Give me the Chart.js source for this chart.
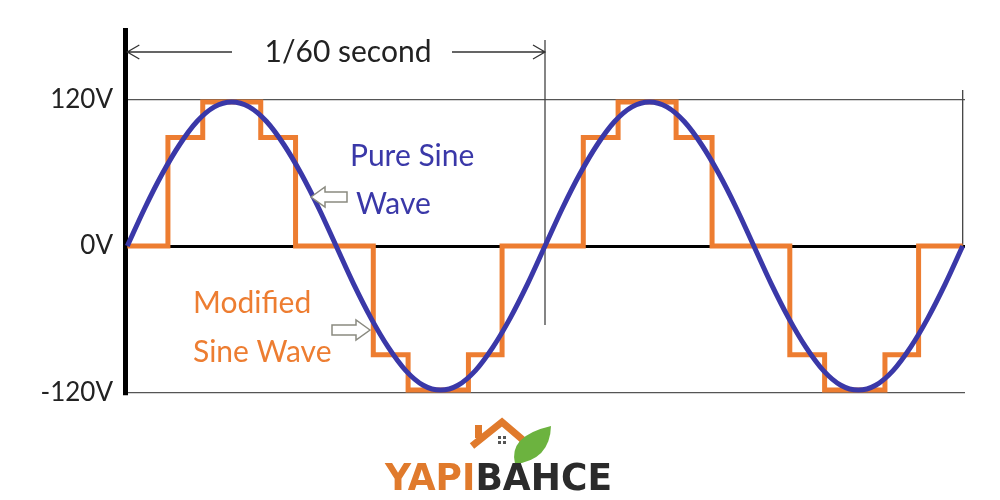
<!DOCTYPE html>
<html>
<head>
<meta charset="utf-8">
<script src="https://cdn.jsdelivr.net/npm/chart.js@4"></script>
<style>
    html, body { margin: 0; padding: 0; background: #fff; }
</style>
</head>
<body>
<canvas id="graficoOnda" width="1000" height="500"></canvas>
<script>
// phase in degrees, two full cycles (1/60 s each)
const phaseDeg = [0,15,30,45,60,75,90,105,120,135,150,165,180,195,210,225,240,255,270,285,300,315,330,345,
                  360,375,390,405,420,435,450,465,480,495,510,525,540,555,570,585,600,615,630,645,660,675,690,705,720];
const pureSine = [0,31,59,83,102,114,118,114,102,83,59,31,0,-31,-59,-83,-102,-114,-118,-114,-102,-83,-59,-31,
                  0,31,59,83,102,114,118,114,102,83,59,31,0,-31,-59,-83,-102,-114,-118,-114,-102,-83,-59,-31,0];

// modified sine: each level holds from its phase to the next one
const stepPhase = [0,35,65,115,145,212,242,294,323,393,423,473,504,571,601,653,682,720];
const modifiedSine = [0,89,118,89,0,-89,-118,-89,0,89,118,89,0,-89,-118,-89,0,0];

const voltTicks = [-120, 0, 120];
const voltLabels = ['-120V', '0V', '120V'];

const azul = 'rgb(58,56,168)';
const laranja = 'rgb(237,125,49)';

function setaVazada(ctx, x0, y, len, dir) {
    // hollow block arrow, dir -1 = points left, 1 = points right
    const h = 10, b = 5, head = 14;
    const tip = dir < 0 ? x0 : x0 + len;
    const tail = dir < 0 ? x0 + len : x0;
    const neck = tip - dir * head;
    ctx.beginPath();
    ctx.moveTo(tip, y);
    ctx.lineTo(neck, y - h);
    ctx.lineTo(neck, y - b);
    ctx.lineTo(tail, y - b);
    ctx.lineTo(tail, y + b);
    ctx.lineTo(neck, y + b);
    ctx.lineTo(neck, y + h);
    ctx.closePath();
    ctx.fillStyle = '#fff';
    ctx.fill();
    ctx.strokeStyle = '#8a8a80';
    ctx.lineWidth = 1.5;
    ctx.stroke();
}

const anotacoes = {
    id: 'anotacoes',
    beforeDatasetsDraw(chart) {
        const ctx = chart.ctx;
        const x = chart.scales.x;
        ctx.save();
        ctx.strokeStyle = '#444';
        ctx.lineWidth = 1.3;
        ctx.beginPath();
        ctx.moveTo(x.getPixelForValue(360), 40);
        ctx.lineTo(x.getPixelForValue(360), 325);
        ctx.moveTo(x.getPixelForValue(720), 90);
        ctx.lineTo(x.getPixelForValue(720), 247);
        ctx.stroke();
        ctx.restore();
    },
    afterDraw(chart) {
        const ctx = chart.ctx;
        const x = chart.scales.x;
        const xa = x.getPixelForValue(0), xb = x.getPixelForValue(360);
        ctx.save();

        // 1/60 second dimension arrow
        ctx.strokeStyle = '#333';
        ctx.lineWidth = 1.3;
        ctx.beginPath();
        ctx.moveTo(xa, 52); ctx.lineTo(232, 52);
        ctx.moveTo(452, 52); ctx.lineTo(xb, 52);
        ctx.moveTo(xa + 12, 45); ctx.lineTo(xa, 52); ctx.lineTo(xa + 12, 59);
        ctx.moveTo(xb - 12, 45); ctx.lineTo(xb, 52); ctx.lineTo(xb - 12, 59);
        ctx.stroke();

        ctx.fillStyle = '#222';
        ctx.font = '30px Lato';
        ctx.textAlign = 'center';
        ctx.textBaseline = 'alphabetic';
        ctx.fillText('1/60 second', 348, 62);

        ctx.textAlign = 'left';
        ctx.fillStyle = azul;
        ctx.fillText('Pure Sine', 350, 166);
        ctx.fillText('Wave', 356, 214);
        setaVazada(ctx, 311, 197, 36, -1);

        ctx.fillStyle = laranja;
        ctx.fillText('Modified', 193, 313);
        ctx.fillText('Sine Wave', 193, 362);
        setaVazada(ctx, 332, 330, 38, 1);

        // logo
        ctx.strokeStyle = '#e07a2c';
        ctx.lineWidth = 7;
        ctx.lineJoin = 'miter';
        ctx.beginPath();
        ctx.moveTo(472, 446); ctx.lineTo(502, 422); ctx.lineTo(530, 446);
        ctx.stroke();
        ctx.fillStyle = '#e07a2c';
        ctx.fillRect(475, 425, 7, 13);
        ctx.fillStyle = '#555';
        ctx.fillRect(498, 436, 3, 3); ctx.fillRect(503, 436, 3, 3);
        ctx.fillRect(498, 441, 3, 3); ctx.fillRect(503, 441, 3, 3);
        ctx.fillStyle = '#6cb33f';
        ctx.beginPath();
        ctx.moveTo(515, 464);
        ctx.quadraticCurveTo(508, 436, 551, 426);
        ctx.quadraticCurveTo(550, 460, 515, 464);
        ctx.fill();

        ctx.font = 'bold 38px "DejaVu Sans"';
        const w1 = ctx.measureText('YAPI').width;
        const w2 = ctx.measureText('BAHCE').width;
        const esc = 227 / (w1 + w2);
        ctx.translate(385, 490);
        ctx.scale(esc, 1);
        ctx.fillStyle = '#e07a2c';
        ctx.fillText('YAPI', 0, 0);
        ctx.fillStyle = '#2b2b2b';
        ctx.fillText('BAHCE', w1, 0);
        ctx.restore();
    }
};

const ctx = document.getElementById('graficoOnda');

new Chart(ctx, {
    type: 'line',
    data: {
        datasets: [{
            label: 'Pure Sine Wave',
            data: phaseDeg.map((p, i) => ({ x: p, y: pureSine[i] })),
            borderColor: azul,
            borderWidth: 5,
            pointRadius: 0,
            cubicInterpolationMode: 'monotone',
            order: 0
        }, {
            label: 'Modified Sine Wave',
            data: stepPhase.map((p, i) => ({ x: p, y: modifiedSine[i] })),
            borderColor: laranja,
            borderWidth: 5,
            pointRadius: 0,
            stepped: 'before',
            order: 1
        }]
    },
    options: {
        responsive: false,
        animation: false,
        devicePixelRatio: 1,
        layout: { padding: { top: 30, right: 35, bottom: 105, left: 0 } },
        plugins: {
            legend: { display: false },
            tooltip: { enabled: false }
        },
        scales: {
            x: {
                type: 'linear',
                min: -2,
                max: 722,
                display: false
            },
            y: {
                min: -122,
                max: 177,
                afterBuildTicks: s => { s.ticks = voltTicks.map(v => ({ value: v })); },
                afterFit: s => { s.width = 125; },
                ticks: {
                    callback: v => voltLabels[voltTicks.indexOf(v)],
                    font: { family: 'Lato', size: 26 },
                    color: '#222',
                    padding: 12
                },
                grid: {
                    color: c => c.tick && c.tick.value === 0 ? '#000' : '#555',
                    lineWidth: c => c.tick && c.tick.value === 0 ? 3 : 1.3,
                    drawTicks: false
                },
                border: { color: '#000', width: 5 }
            }
        }
    },
    plugins: [anotacoes]
});
</script>
</body>
</html>
